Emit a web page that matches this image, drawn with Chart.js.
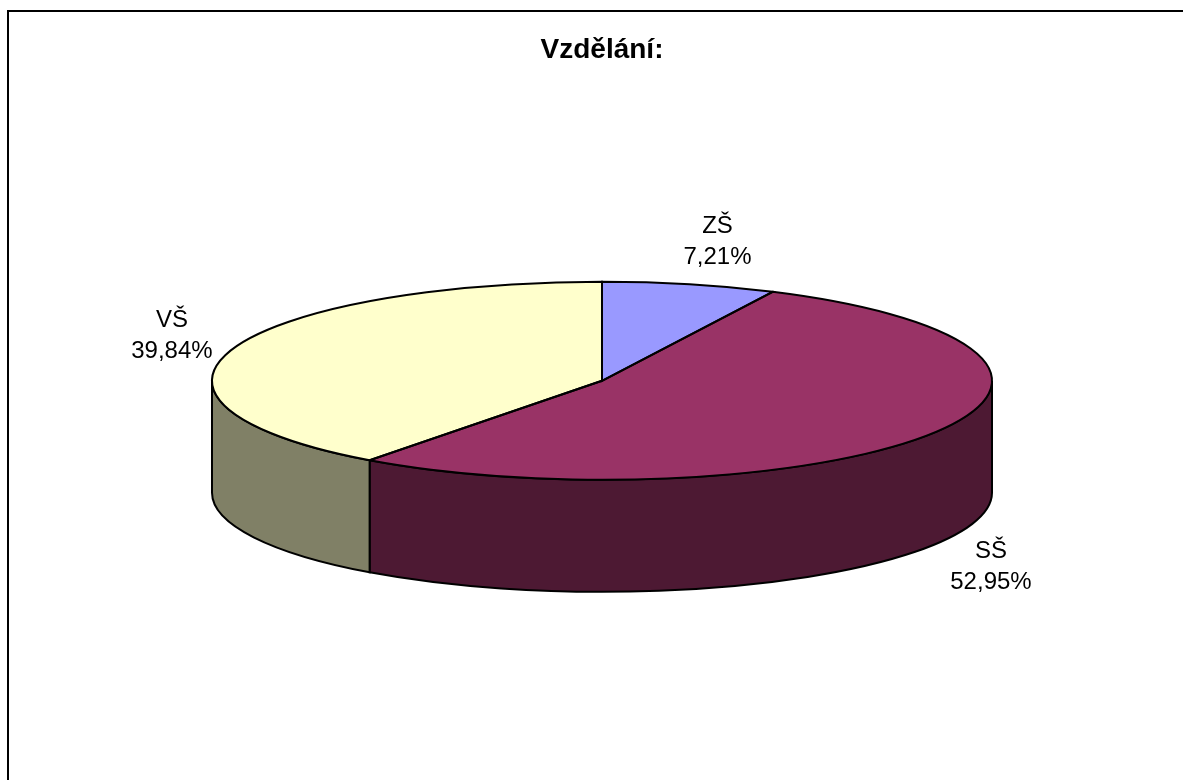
<!DOCTYPE html>
<html>
<head>
<meta charset="utf-8">
<script src="https://cdn.jsdelivr.net/npm/chart.js@4.4.1/dist/chart.umd.min.js"></script>
<style>
    html, body { margin: 0; padding: 0; background: #ffffff; overflow: hidden; }
    #wrap { position: relative; width: 1183px; height: 780px; }
    #frame { position: absolute; left: 7px; top: 10px; width: 1200px; height: 800px; border: 2px solid #000; box-sizing: border-box; }
    #pie { position: absolute; left: 0; top: 0; }
</style>
</head>
<body>
<div id="wrap">
    <div id="frame"></div>
    <canvas id="pie" width="1183" height="780"></canvas>
</div>
<script>
// data
const categories = ['ZŠ', 'SŠ', 'VŠ'];
const shares = [7.21, 52.95, 39.84];
const topColors = ['#9999FF', '#993366', '#FFFFCC'];
const sideColors = ['#4D4D80', '#4D1933', '#808066'];

// look of the 3D tilt
const RX = 390;      // ellipse half width
const RY = 99;       // ellipse half height
const DEPTH = 112;   // thickness of the pie
const FONT = '24px "Liberation Sans", Arial, sans-serif';

function pct(v) {
    return v.toFixed(2).replace('.', ',') + '%';
}

const tiltedPie = {
    id: 'tiltedPie',
    beforeDatasetsDraw(chart) {
        const ctx = chart.ctx;
        const arcs = chart.getDatasetMeta(0).data;
        const { x, y, outerRadius } = arcs[0];

        // side walls, only the front half (angles 0..PI) shows
        ctx.save();
        ctx.lineWidth = 2;
        ctx.strokeStyle = '#000';
        arcs.forEach((arc, i) => {
            const a0 = Math.max(arc.startAngle, 0);
            const a1 = Math.min(arc.endAngle, Math.PI);
            if (a1 <= a0) return;
            ctx.beginPath();
            ctx.ellipse(x, y, RX, RY, 0, a0, a1, false);
            ctx.ellipse(x, y + DEPTH, RX, RY, 0, a1, a0, true);
            ctx.closePath();
            ctx.fillStyle = sideColors[i];
            ctx.fill();
            ctx.stroke();
        });
        ctx.restore();

        // squash the library's circle into an ellipse
        ctx.save();
        ctx.translate(x, y);
        ctx.scale(RX / outerRadius, RY / outerRadius);
        ctx.translate(-x, -y);
    },
    afterDatasetsDraw(chart) {
        const ctx = chart.ctx;
        ctx.restore();
        const arcs = chart.getDatasetMeta(0).data;
        const { x, y } = arcs[0];

        // outlines of the top face
        ctx.save();
        ctx.lineWidth = 2;
        ctx.strokeStyle = '#000';
        arcs.forEach(arc => {
            ctx.beginPath();
            ctx.moveTo(x, y);
            ctx.ellipse(x, y, RX, RY, 0, arc.startAngle, arc.endAngle, false);
            ctx.closePath();
            ctx.stroke();
        });

        // labels
        ctx.font = FONT;
        ctx.fillStyle = '#000';
        ctx.textAlign = 'center';
        ctx.textBaseline = 'middle';
        arcs.forEach((arc, i) => {
            const m = (arc.startAngle + arc.endAngle) / 2;
            const c = Math.cos(m), s = Math.sin(m);
            let lx = x + RX * c + 44 * c + 18 * Math.sign(c);
            let ly = y + RY * s + 44 * s + (s > 0 ? DEPTH : 0);
            ctx.fillText(categories[i], lx, ly - 15.5);
            ctx.fillText(pct(shares[i]), lx, ly + 15.5);
        });
        ctx.restore();
    }
};

new Chart(document.getElementById('pie').getContext('2d'), {
    type: 'pie',
    data: {
        labels: categories,
        datasets: [{
            data: shares,
            backgroundColor: topColors,
            borderWidth: 0,
            hoverOffset: 0
        }]
    },
    options: {
        responsive: false,
        animation: false,
        events: [],
        layout: { padding: { left: 21, right: 0, top: 0, bottom: 95 } },
        plugins: {
            legend: { display: false },
            tooltip: { enabled: false },
            title: {
                display: true,
                text: 'Vzdělání:',
                color: '#000',
                font: { family: '"Liberation Sans", Arial, sans-serif', size: 28, weight: 'bold' },
                padding: { top: 33, bottom: 10 }
            }
        }
    },
    plugins: [tiltedPie]
});
</script>
</body>
</html>
